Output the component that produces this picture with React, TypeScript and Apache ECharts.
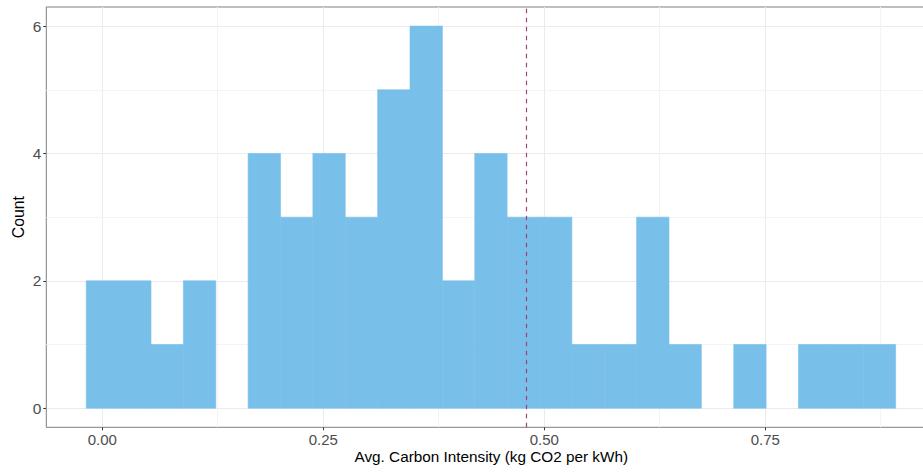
import React, { useEffect, useRef } from "react";
import * as echarts from "echarts";

// Histogram bins (bin start, bin end in kg CO2 per kWh) and counts
const binStart = -0.0181;
const binWidth = 0.03662;
const counts = [2, 2, 1, 2, 0, 4, 3, 4, 3, 5, 6, 2, 4, 3, 3, 1, 1, 3, 1, 0, 1, 0, 1, 1, 1];
const meanValue = 0.4804;
const xTicks = [0, 0.25, 0.5, 0.75];
const xMinor = [0.125, 0.375, 0.625, 0.875];
const yTicks = [0, 2, 4, 6];
const yMinor = [1, 3, 5];

export default function App() {
  const ref = useRef<HTMLDivElement>(null);
  useEffect(() => {
    document.body.style.margin = "0";
    const chart = echarts.init(ref.current!, null, { renderer: "svg" });
    const bins = counts
      .map((c, i) => [binStart + i * binWidth, binStart + (i + 1) * binWidth, c])
      .filter((b) => b[2] > 0);
    const font = "'Liberation Sans', Arial, Helvetica, sans-serif";
    chart.setOption({
      animation: false,
      grid: {
        left: 46.3,
        right: -13.2,
        top: 7,
        bottom: 44.7,
        outerBoundsMode: "none",
        containLabel: false,
        show: true,
        borderColor: "#7f7f7f",
        borderWidth: 1,
        backgroundColor: "#fff",
      },
      xAxis: {
        type: "value",
        min: -0.0633,
        max: 0.9433,
        interval: 0.25,
        axisLine: { show: false, onZero: false },
        axisTick: { show: true, customValues: xTicks, length: 3, lineStyle: { color: "#333", width: 1 } },
        axisLabel: {
          customValues: xTicks,
          color: "#4d4d4d",
          fontSize: 15,
          fontFamily: font,
          margin: 5,
          formatter: (v: number) => v.toFixed(2),
        },
        splitLine: { show: true, lineStyle: { color: "#ebebeb", width: 1 } },
        name: "Avg. Carbon Intensity (kg CO2 per kWh)",
        nameLocation: "middle",
        nameMoveOverlap: false,
        nameGap: 22,
        nameTextStyle: { color: "#000", fontSize: 15.3, fontFamily: font },
      },
      yAxis: {
        type: "value",
        min: -0.3,
        max: 6.3,
        interval: 2,
        axisLine: { show: false, onZero: false },
        axisTick: { show: true, customValues: yTicks, length: 3, lineStyle: { color: "#333", width: 1 } },
        axisLabel: {
          customValues: yTicks,
          color: "#4d4d4d",
          fontSize: 15.5,
          fontFamily: font,
          margin: 5,
        },
        splitLine: { show: true, lineStyle: { color: "#ebebeb", width: 1 } },
        name: "Count",
        nameLocation: "middle",
        nameMoveOverlap: false,
        nameGap: 20,
        nameRotate: 90,
        nameTextStyle: { color: "#000", fontSize: 15.8, fontFamily: font },
      },
      series: [
        {
          type: "line",
          data: [],
          z: 1,
          silent: true,
          markLine: {
            silent: true,
            z: 1,
            symbol: "none",
            label: { show: false },
            lineStyle: { color: "#f3f3f3", width: 1, type: "solid" },
            data: [
              ...xMinor.map((v) => ({ xAxis: v })),
              ...yMinor.map((v) => ({ yAxis: v })),
            ],
          },
        },
        {
          type: "custom",
          z: 3,
          data: bins,
          encode: { x: [0, 1], y: 2 },
          renderItem: (params: any, api: any) => {
            const p0 = api.coord([api.value(0), api.value(2)]);
            const p1 = api.coord([api.value(1), 0]);
            return {
              type: "rect",
              shape: { x: p0[0], y: p0[1], width: p1[0] - p0[0], height: p1[1] - p0[1] },
              style: { fill: "#78c0e9", stroke: "#78c0e9", lineWidth: 0.6 },
            };
          },
          markLine: {
            silent: true,
            z: 5,
            symbol: "none",
            label: { show: false },
            lineStyle: { color: "#a0437a", width: 1.2, type: [4.5, 4.5] },
            data: [{ xAxis: meanValue }],
          },
        },
      ],
    });
    return () => chart.dispose();
  }, []);
  return <div ref={ref} style={{ width: 923, height: 472 }} />;
}
